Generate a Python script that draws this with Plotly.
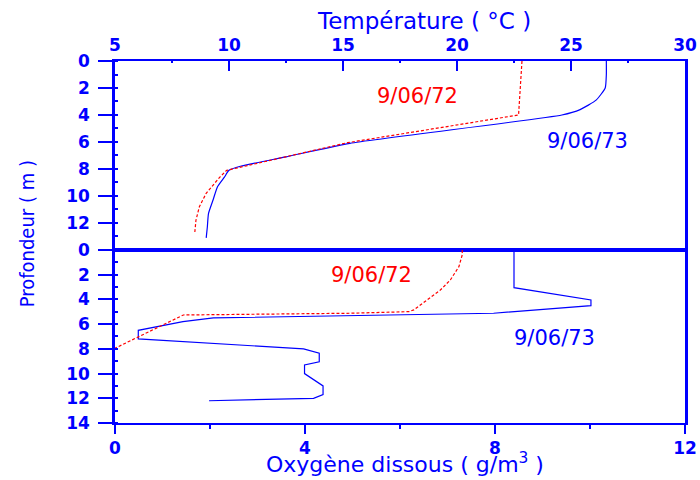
import plotly.graph_objects as go

# Temperature profiles (°C vs depth m)
temp_73_t = [26.55, 26.55, 26.5, 26.1, 25.4, 24.6, 15.3, 12.5, 10.5, 10.0, 9.8, 9.5, 9.3, 9.1, 9.05, 9.0]
temp_73_z = [0.0, 1.0, 2.0, 2.9, 3.6, 4.0, 6.1, 7.1, 7.8, 8.1, 8.6, 9.3, 10.3, 11.3, 12.3, 13.1]
temp_72_t = [22.85, 22.7, 15.2, 9.9, 9.6, 9.0, 8.7, 8.55, 8.5]
temp_72_z = [0.0, 4.0, 6.05, 8.1, 8.6, 9.8, 10.8, 11.8, 12.7]

# Dissolved oxygen profiles (g/m3 vs depth m)
oxy_73_o = [8.4, 8.4, 10.02, 10.02, 7.97, 4.96, 2.07, 1.43, 0.49, 0.49, 3.97, 4.3, 4.3,
            3.99, 3.99, 4.38, 4.38, 4.18, 1.98]
oxy_73_z = [0.0, 3.05, 4.05, 4.5, 5.12, 5.34, 5.5, 5.8, 6.5, 7.2, 8.0, 8.35, 9.05,
            9.3, 10.0, 11.0, 11.7, 12.0, 12.2]
oxy_72_o = [7.31, 7.31, 7.24, 7.06, 6.85, 6.57, 6.29, 6.19, 4.96, 1.44, 0.0]
oxy_72_z = [0.0, 0.4, 1.35, 2.43, 3.24, 4.05, 4.85, 4.99, 5.12, 5.26, 7.95]

depth_ticks_top = [0, 2, 4, 6, 8, 10, 12]
depth_ticks_bottom = [0, 2, 4, 6, 8, 10, 12, 14]

BLUE = "#0000ff"
RED = "#ff0000"
tick_font = dict(family="DejaVu Sans", size=17, color=BLUE, weight="bold")
label_font = dict(family="DejaVu Sans", size=21)

fig = go.Figure()

fig.add_trace(go.Scatter(x=temp_73_t, y=temp_73_z, mode="lines", xaxis="x", yaxis="y",
                         line=dict(color=BLUE, width=1.2, shape="spline", smoothing=0.5)))
fig.add_trace(go.Scatter(x=temp_72_t, y=temp_72_z, mode="lines", xaxis="x", yaxis="y",
                         line=dict(color=RED, width=1.2, dash="3px,2px")))
fig.add_trace(go.Scatter(x=oxy_73_o, y=oxy_73_z, mode="lines", xaxis="x2", yaxis="y2",
                         line=dict(color=BLUE, width=1.2)))
fig.add_trace(go.Scatter(x=oxy_72_o, y=oxy_72_z, mode="lines", xaxis="x2", yaxis="y2",
                         line=dict(color=RED, width=1.2, dash="3px,2px")))

split = 0.478
common_y = dict(range=[14, 0], showgrid=False, zeroline=False, showline=True, linecolor=BLUE,
                linewidth=2.5, mirror=True, ticks="outside", ticklen=14, tickwidth=2,
                tickcolor=BLUE, tickfont=tick_font, ticklabelstandoff=5, automargin=False,
                minor=dict(ticks="inside", ticklen=3, tickwidth=1.5, dtick=1, tickcolor=BLUE))
right_y = dict(range=[14, 0], side="right", showgrid=False, zeroline=False, showline=False,
               ticks="outside", ticklen=3, tickwidth=1.5, tickcolor=BLUE, tick0=0, dtick=1,
               showticklabels=False, automargin=False)

fig.update_layout(
    width=700, height=480,
    margin=dict(l=115, r=15, t=61, b=57),
    paper_bgcolor="white", plot_bgcolor="white",
    showlegend=False,
    xaxis=dict(range=[5, 30], side="top", anchor="y", showgrid=False, zeroline=False,
               showline=True, linecolor=BLUE, linewidth=2, mirror=True, automargin=False,
               ticks="inside", ticklen=10, tickwidth=2, tickcolor=BLUE, dtick=5,
               tickfont=tick_font, ticklabelstandoff=1,
               minor=dict(ticks="inside", ticklen=2, tickwidth=1.5, dtick=2.5, tickcolor=BLUE)),
    yaxis=dict(domain=[split, 1], anchor="x", tickvals=depth_ticks_top, **common_y),
    xaxis2=dict(range=[0, 12], side="bottom", anchor="y2", showgrid=False, zeroline=False,
                showline=True, linecolor=BLUE, linewidth=2, mirror=True, automargin=False,
                ticks="outside", ticklen=9, tickwidth=2, tickcolor=BLUE, dtick=4,
                tickfont=tick_font,
                minor=dict(ticks="outside", ticklen=4, tickwidth=2, dtick=2, tickcolor=BLUE)),
    yaxis2=dict(domain=[0, split], anchor="x2", tickvals=depth_ticks_bottom, **common_y),
    yaxis3=dict(overlaying="y", anchor="x", **right_y),
    yaxis4=dict(overlaying="y2", anchor="x2", **right_y),
)

annotations = [
    dict(x=18.25, y=2.6, xref="x", yref="y", text="9/06/72", showarrow=False,
         font=dict(color=RED, **label_font)),
    dict(x=25.72, y=5.93, xref="x", yref="y", text="9/06/73", showarrow=False,
         font=dict(color=BLUE, **label_font)),
    dict(x=5.40, y=2.02, xref="x2", yref="y2", text="9/06/72", showarrow=False,
         font=dict(color=RED, **label_font)),
    dict(x=9.25, y=7.16, xref="x2", yref="y2", text="9/06/73", showarrow=False,
         font=dict(color=BLUE, **label_font)),
    dict(x=0.542, y=1.11, xref="paper", yref="paper", text="Température ( °C )",
         xanchor="center", yanchor="middle",
         showarrow=False, font=dict(family="DejaVu Sans", size=23, color=BLUE)),
    dict(x=0.509, y=-0.111, xref="paper", yref="paper",
         text="Oxygène dissous ( g/m<sup>3</sup> )", xanchor="center", yanchor="middle",
         showarrow=False, font=dict(family="DejaVu Sans", size=22, color=BLUE)),
    dict(x=-0.154, y=0.522, xref="paper", yref="paper", text="Profondeur ( m )",
         showarrow=False, textangle=-90, xanchor="center", yanchor="middle",
         font=dict(family="Liberation Sans Narrow, DejaVu Sans Condensed, sans-serif",
                   size=20, color=BLUE)),
]
fig.update_layout(annotations=annotations)

fig.write_html("out.html")
